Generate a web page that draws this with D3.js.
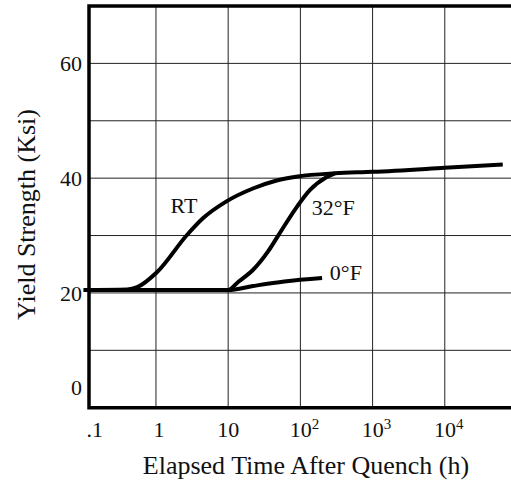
<!DOCTYPE html>
<html>
<head>
    <meta charset="utf-8">
    <title>Yield strength vs elapsed time after quench</title>
    <script src="https://d3js.org/d3.v7.min.js"></script>
    <style>
        body { margin: 0; background: #fff; }
        text { font-family: "Liberation Serif", "DejaVu Serif", serif; fill: #111; }
    </style>
</head>
<body>
<div id="chart"></div>
<script>
    // values (time in hours, yield strength in ksi)
    const rtTime  = [0.1, 0.4, 0.55, 1.03, 2.69, 4.47, 9.6, 22, 47, 92, 300, 1000, 10000, 63500];
    const rtYield = [20.5, 20.6, 21.0, 23.6, 30.1, 33.0, 36.0, 38.2, 39.6, 40.3, 40.85, 41.1, 41.8, 42.4];

    const f32Time  = [0.1, 9.9, 14, 22, 35.5, 48.8, 89.5, 135, 232, 300];
    const f32Yield = [20.5, 20.5, 22.0, 24.0, 27.2, 29.9, 35.0, 37.9, 40.2, 40.85];

    const f0Time  = [0.1, 10, 22, 60, 200];
    const f0Yield = [20.5, 20.5, 21.2, 22.0, 22.6];

    const xTicks = [0.1, 1, 10, 100, 1000, 10000];
    const xTickBase = [".1", "1", "10", "10", "10", "10"];
    const xTickExp = ["", "", "", "2", "3", "4"];
    const yTicks = [0, 20, 40, 60];
    const yGrid = [10, 20, 30, 40, 50, 60];

    const curveLabels = [
        {text: "RT", t: 2.44, v: 33.9, anchor: "middle"},
        {text: "32°F", t: 144, v: 33.55, anchor: "start"},
        {text: "0°F", t: 256, v: 22.2, anchor: "start"}
    ];

    const width = 511, height = 483;
    const plotLeft = 89, plotTop = 6;

    const x = d3.scaleLog().domain([0.1, 1e5]).range([83.75, 517]);
    const y = d3.scaleLinear().domain([0, 70]).range([407.7, plotTop]);

    const svg = d3.select("#chart")
        .append("svg")
        .attr("width", width)
        .attr("height", height);

    // grid
    svg.append("g")
        .selectAll("line")
        .data(xTicks.slice(1).concat([1e5]))
        .enter()
        .append("line")
        .attr("x1", d => x(d)).attr("x2", d => x(d))
        .attr("y1", plotTop).attr("y2", y(0))
        .style("stroke", "#222")
        .style("stroke-width", 1);

    svg.append("g")
        .selectAll("line")
        .data(yGrid)
        .enter()
        .append("line")
        .attr("x1", plotLeft).attr("x2", width + 5)
        .attr("y1", d => y(d)).attr("y2", d => y(d))
        .style("stroke", "#222")
        .style("stroke-width", 1);

    // frame: left, top and bottom (right side runs off the page)
    svg.append("path")
        .attr("d", `M${width + 5},${plotTop}H${plotLeft}V${y(0)}H${width + 5}`)
        .style("fill", "none")
        .style("stroke", "#000")
        .style("stroke-width", 3.5);

    // curves
    const line = d3.line()
        .x(d => x(d[0]))
        .y(d => y(d[1]))
        .curve(d3.curveMonotoneX);

    const series = [
        d3.zip(rtTime, rtYield),
        d3.zip(f32Time, f32Yield),
        d3.zip(f0Time, f0Yield)
    ];

    svg.append("g")
        .selectAll("path")
        .data(series)
        .enter()
        .append("path")
        .attr("d", line)
        .style("fill", "none")
        .style("stroke", "#000")
        .style("stroke-width", 4);

    svg.selectAll(".clabel")
        .data(curveLabels)
        .enter()
        .append("text")
        .attr("class", "clabel")
        .attr("x", d => x(d.t))
        .attr("y", d => y(d.v))
        .attr("text-anchor", d => d.anchor)
        .style("font-size", "22px")
        .text(d => d.text);

    // y tick labels
    svg.selectAll(".ytick")
        .data(yTicks)
        .enter()
        .append("text")
        .attr("class", "ytick")
        .attr("x", 82)
        .attr("y", d => y(d))
        .attr("dy", d => d === 0 ? -13 : 8)
        .attr("text-anchor", "end")
        .style("font-size", "22px")
        .text(d => d);

    // x tick labels
    const xl = svg.selectAll(".xtick")
        .data(xTicks)
        .enter()
        .append("text")
        .attr("class", "xtick")
        .attr("x", (d, i) => x(d) + (i === 0 ? 11 : (i === 1 ? 3 : (xTickExp[i] ? 4 : 0))))
        .attr("y", 437)
        .attr("text-anchor", "middle")
        .style("font-size", "22px");
    xl.append("tspan").text((d, i) => xTickBase[i]);
    xl.append("tspan")
        .attr("dy", -8)
        .style("font-size", "15px")
        .text((d, i) => xTickExp[i]);

    // axis titles
    svg.append("text")
        .attr("x", 306)
        .attr("y", 474)
        .attr("text-anchor", "middle")
        .style("font-size", "26px")
        .text("Elapsed Time After Quench (h)");

    svg.append("text")
        .attr("transform", "translate(35,214.5) rotate(-90)")
        .attr("text-anchor", "middle")
        .style("font-size", "26px")
        .text("Yield Strength (Ksi)");
</script>
</body>
</html>
